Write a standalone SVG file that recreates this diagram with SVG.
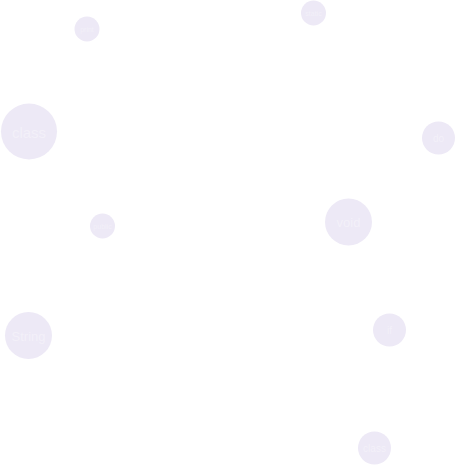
<svg xmlns="http://www.w3.org/2000/svg" width="456" height="466" viewBox="0 0 456 466">
<style>
.b{fill:#ede9f6}
.t{fill:#ffffff;fill-opacity:0.35;font-family:"Liberation Sans",Arial,sans-serif;text-anchor:middle;dominant-baseline:central}
</style>
<rect width="456" height="466" fill="#ffffff"/>
<g id="connectors"/>
<g id="n-print"><circle class="b" cx="87" cy="29" r="12.5"/><text class="t" x="87" y="29" font-size="7">print</text></g>
<g id="n-static"><circle class="b" cx="313.5" cy="13" r="12.5"/><text class="t" x="313.5" y="13" font-size="7">static</text></g>
<g id="n-class1"><circle class="b" cx="29" cy="131.5" r="28"/><text class="t" x="29" y="132" font-size="15">class</text></g>
<g id="n-do"><circle class="b" cx="438.5" cy="138" r="16.5"/><text class="t" x="438.5" y="138" font-size="10">do</text></g>
<g id="n-public"><circle class="b" cx="102.5" cy="226" r="12.5"/><text class="t" x="102.5" y="226" font-size="7">public</text></g>
<g id="n-void"><circle class="b" cx="348.5" cy="222" r="23.5"/><text class="t" x="348.5" y="222" font-size="13">void</text></g>
<g id="n-String"><circle class="b" cx="28.5" cy="335.5" r="23.5"/><text class="t" x="28.5" y="336" font-size="13">String</text></g>
<g id="n-if"><circle class="b" cx="389.5" cy="330" r="16.5"/><text class="t" x="389.5" y="330" font-size="10">if</text></g>
<g id="n-class2"><circle class="b" cx="374.5" cy="448" r="16.5"/><text class="t" x="374.5" y="448" font-size="10">class</text></g>
</svg>
